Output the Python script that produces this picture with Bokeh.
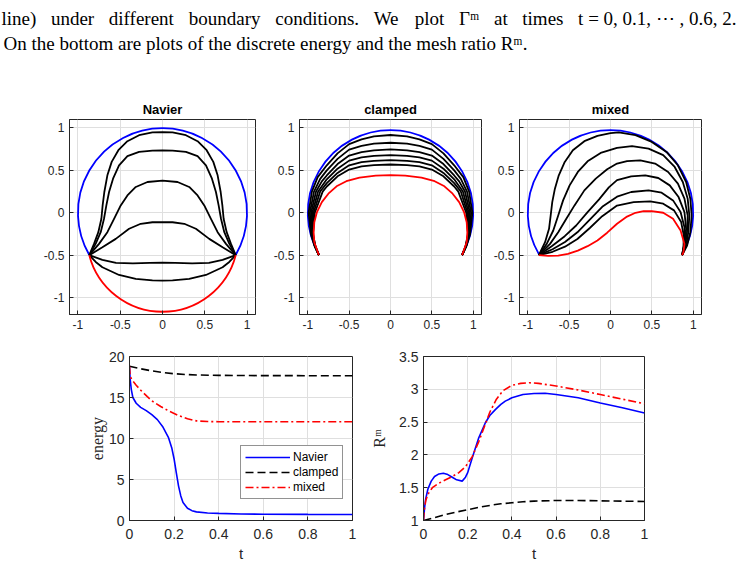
from bokeh.plotting import figure
from bokeh.layouts import column, row
from bokeh.models import Range1d, FixedTicker, Legend, LegendItem
from bokeh.embed import file_html
from bokeh.resources import INLINE
from bokeh.core.properties import value

# ---------------- caption (justified first line, word by word) ----------------
caption_words_1 = ["line)", "under", "different", "boundary", "conditions.", "We", "plot",
                   "\u0393\u1d50", "at", "times", "t = 0, 0.1, \u22ef , 0.6, 2."]
caption_word_x_1 = [1, 50.4, 108.3, 188.3, 274.7, 373.2, 414.2, 458.4, 493.5, 521.8, 577.6]
caption_line_2 = "On the bottom are plots of the discrete energy and the mesh ratio R\u1d50."

# ---------------- top row: curve snapshots ----------------
panel_titles = ["Navier", "clamped", "mixed"]
shape_ticks = [-1, -0.5, 0, 0.5, 1]
shape_tick_labels = ["-1", "-0.5", "0", "0.5", "1"]

# initial curve: unit circle arc between the two fixed end points
init_center = (0.0, 0.0)
init_radius = 1.0
init_angles = (-30.0, 210.0)

# Navier: final curve is a circular arc below the end points
navier_final_center = (0.0, -0.275)
navier_final_radius = 0.895
navier_final_angles = (194.6, 345.4)

navier_xs = [
    [-0.866, -0.81, -0.759, -0.723, -0.708, -0.688, -0.652, -0.601, -0.522, -0.415, -0.277, -0.119, 0,
     0.119, 0.277, 0.415, 0.522, 0.601, 0.652, 0.688, 0.708, 0.723, 0.759, 0.81, 0.866],
    [-0.866, -0.791, -0.731, -0.692, -0.664, -0.632, -0.585, -0.514, -0.415, -0.277, -0.119, 0,
     0.119, 0.277, 0.415, 0.514, 0.585, 0.632, 0.664, 0.692, 0.731, 0.791, 0.866],
    [-0.866, -0.751, -0.652, -0.573, -0.494, -0.415, -0.316, -0.178, 0,
     0.178, 0.316, 0.415, 0.494, 0.573, 0.652, 0.751, 0.866],
    [-0.866, -0.711, -0.553, -0.395, -0.257, -0.119, 0, 0.119, 0.257, 0.395, 0.553, 0.711, 0.866],
    [-0.866, -0.711, -0.55, -0.35, -0.15, 0, 0.15, 0.35, 0.55, 0.711, 0.866],
    [-0.866, -0.79, -0.711, -0.514, -0.316, -0.119, 0, 0.119, 0.316, 0.514, 0.711, 0.79, 0.866],
]
navier_ys = [
    [-0.5, -0.367, -0.229, -0.071, 0.087, 0.245, 0.442, 0.600, 0.738, 0.844, 0.915, 0.947, 0.952,
     0.947, 0.915, 0.844, 0.738, 0.600, 0.442, 0.245, 0.087, -0.071, -0.229, -0.367, -0.5],
    [-0.5, -0.367, -0.229, -0.071, 0.087, 0.245, 0.402, 0.560, 0.667, 0.718, 0.734, 0.735,
     0.734, 0.718, 0.667, 0.560, 0.402, 0.245, 0.087, -0.071, -0.229, -0.367, -0.5],
    [-0.5, -0.367, -0.229, -0.071, 0.087, 0.205, 0.304, 0.363, 0.38,
     0.363, 0.304, 0.205, 0.087, -0.071, -0.229, -0.367, -0.5],
    [-0.5, -0.406, -0.308, -0.189, -0.130, -0.112, -0.11, -0.112, -0.130, -0.189, -0.308, -0.406, -0.5],
    [-0.5, -0.555, -0.592, -0.598, -0.59, -0.588, -0.59, -0.598, -0.592, -0.555, -0.5],
    [-0.5, -0.58, -0.643, -0.734, -0.781, -0.797, -0.80, -0.797, -0.781, -0.734, -0.643, -0.58, -0.5],
]

clamped_xs = [
    [-0.866, -0.915, -0.962, -0.99, -0.95, -0.88, -0.77, -0.64, -0.5, -0.35, -0.2, 0,
     0.2, 0.35, 0.5, 0.64, 0.77, 0.88, 0.95, 0.99, 0.962, 0.915, 0.866],
    [-0.866, -0.913, -0.957, -0.975, -0.925, -0.85, -0.77, -0.64, -0.5, -0.35, -0.2, 0,
     0.2, 0.35, 0.5, 0.64, 0.77, 0.85, 0.925, 0.975, 0.957, 0.913, 0.866],
    [-0.866, -0.911, -0.952, -0.96, -0.90, -0.83, -0.77, -0.64, -0.5, -0.35, -0.2, 0,
     0.2, 0.35, 0.5, 0.64, 0.77, 0.83, 0.90, 0.96, 0.952, 0.911, 0.866],
    [-0.866, -0.909, -0.947, -0.945, -0.875, -0.77, -0.64, -0.5, -0.35, -0.2, 0,
     0.2, 0.35, 0.5, 0.64, 0.77, 0.875, 0.945, 0.947, 0.909, 0.866],
    [-0.866, -0.907, -0.942, -0.93, -0.85, -0.77, -0.64, -0.5, -0.35, -0.2, 0,
     0.2, 0.35, 0.5, 0.64, 0.77, 0.85, 0.93, 0.942, 0.907, 0.866],
    [-0.866, -0.906, -0.937, -0.915, -0.82, -0.77, -0.64, -0.5, -0.35, -0.2, 0,
     0.2, 0.35, 0.5, 0.64, 0.77, 0.82, 0.915, 0.937, 0.906, 0.866],
]
clamped_ys = [
    [-0.5, -0.4, -0.25, 0, 0.25, 0.42, 0.56, 0.70, 0.81, 0.865, 0.90, 0.917,
     0.90, 0.865, 0.81, 0.70, 0.56, 0.42, 0.25, 0, -0.25, -0.4, -0.5],
    [-0.5, -0.4, -0.25, 0, 0.25, 0.40, 0.50, 0.635, 0.745, 0.79, 0.815, 0.826,
     0.815, 0.79, 0.745, 0.635, 0.50, 0.40, 0.25, 0, -0.25, -0.4, -0.5],
    [-0.5, -0.4, -0.25, 0, 0.25, 0.37, 0.44, 0.575, 0.675, 0.715, 0.737, 0.747,
     0.737, 0.715, 0.675, 0.575, 0.44, 0.37, 0.25, 0, -0.25, -0.4, -0.5],
    [-0.5, -0.4, -0.25, 0, 0.25, 0.395, 0.52, 0.615, 0.652, 0.672, 0.68,
     0.672, 0.652, 0.615, 0.52, 0.395, 0.25, 0, -0.25, -0.4, -0.5],
    [-0.5, -0.4, -0.25, 0, 0.25, 0.35, 0.47, 0.56, 0.597, 0.613, 0.621,
     0.613, 0.597, 0.56, 0.47, 0.35, 0.25, 0, -0.25, -0.4, -0.5],
    [-0.5, -0.4, -0.25, 0, 0.25, 0.31, 0.43, 0.51, 0.547, 0.562, 0.569,
     0.562, 0.547, 0.51, 0.43, 0.31, 0.25, 0, -0.25, -0.4, -0.5],
]
clamped_final_x = [-0.866, -0.921, -0.929, -0.921, -0.889, -0.830, -0.751, -0.652, -0.534, -0.375, -0.178, 0,
                   0.178, 0.375, 0.534, 0.652, 0.751, 0.830, 0.889, 0.921, 0.929, 0.921, 0.866]
clamped_final_y = [-0.5, -0.348, -0.229, -0.111, 0.008, 0.126, 0.225, 0.312, 0.372, 0.415, 0.439, 0.443,
                   0.439, 0.415, 0.372, 0.312, 0.225, 0.126, 0.008, -0.111, -0.229, -0.348, -0.5]

mixed_xs = [
    [-0.866, -0.791, -0.743, -0.723, -0.704, -0.672, -0.625, -0.553, -0.455, -0.316, -0.158, 0.0, 0.1,
     0.302, 0.499, 0.677, 0.815, 0.914, 0.965, 0.981, 0.965, 0.926, 0.866],
    [-0.866, -0.771, -0.692, -0.632, -0.573, -0.494, -0.395, -0.277, -0.119, 0.079, 0.26,
     0.460, 0.637, 0.776, 0.874, 0.933, 0.953, 0.941, 0.914, 0.866],
    [-0.866, -0.731, -0.632, -0.534, -0.435, -0.316, -0.178, -0.040, 0.079, 0.2, 0.36,
     0.539, 0.697, 0.815, 0.894, 0.933, 0.925, 0.902, 0.866],
    [-0.866, -0.711, -0.553, -0.415, -0.277, -0.138, -0.020, 0.079, 0.25, 0.42,
     0.578, 0.716, 0.823, 0.894, 0.914, 0.894, 0.866],
    [-0.866, -0.7, -0.55, -0.4, -0.25, -0.1, 0.079, 0.25, 0.46,
     0.618, 0.756, 0.847, 0.894, 0.894, 0.866],
    [-0.866, -0.7, -0.55, -0.4, -0.25, -0.1, 0.079, 0.28, 0.48,
     0.637, 0.768, 0.854, 0.886, 0.882, 0.866],
]
mixed_ys = [
    [-0.5, -0.347, -0.189, -0.032, 0.126, 0.284, 0.442, 0.600, 0.738, 0.844, 0.907, 0.94, 0.947,
     0.915, 0.836, 0.718, 0.560, 0.363, 0.166, -0.032, -0.229, -0.387, -0.5],
    [-0.5, -0.367, -0.209, -0.032, 0.146, 0.323, 0.481, 0.607, 0.706, 0.765, 0.785,
     0.757, 0.679, 0.540, 0.363, 0.166, -0.032, -0.229, -0.387, -0.5],
    [-0.5, -0.367, -0.229, -0.071, 0.087, 0.264, 0.402, 0.513, 0.580, 0.61, 0.619,
     0.580, 0.481, 0.343, 0.166, -0.032, -0.229, -0.387, -0.5],
    [-0.5, -0.394, -0.276, -0.150, 0.008, 0.158, 0.30, 0.385, 0.43, 0.442,
     0.410, 0.323, 0.185, 0.008, -0.189, -0.367, -0.5],
    [-0.5, -0.43, -0.345, -0.23, -0.08, 0.07, 0.19, 0.245, 0.264,
     0.237, 0.146, 0.008, -0.170, -0.347, -0.5],
    [-0.5, -0.46, -0.40, -0.31, -0.18, -0.04, 0.085, 0.125, 0.134,
     0.107, 0.028, -0.110, -0.268, -0.406, -0.5],
]
mixed_final_x = [-0.866, -0.751, -0.632, -0.514, -0.395, -0.277, -0.158, -0.04, 0.079, 0.2, 0.302, 0.40,
                 0.499, 0.637, 0.756, 0.847, 0.894, 0.882, 0.866]
mixed_final_y = [-0.5, -0.509, -0.505, -0.485, -0.446, -0.394, -0.327, -0.235, -0.13, -0.045, 0.0, 0.018,
                 0.02, 0.0, -0.071, -0.209, -0.367, -0.465, -0.5]

# ---------------- bottom row: energy and mesh ratio ----------------
time_ticks = [0, 0.2, 0.4, 0.6, 0.8, 1]
time_tick_labels = ["0", "0.2", "0.4", "0.6", "0.8", "1"]
energy_ticks = [0, 5, 10, 15, 20]
energy_tick_labels = ["0", "5", "10", "15", "20"]
ratio_ticks = [1, 1.5, 2, 2.5, 3, 3.5]
ratio_tick_labels = ["1", "1.5", "2", "2.5", "3", "3.5"]

energy_navier_t = [0, 0.003, 0.008, 0.015, 0.03, 0.05, 0.075, 0.1, 0.125, 0.15, 0.175, 0.19, 0.2,
                   0.21, 0.22, 0.23, 0.24, 0.26, 0.28, 0.3, 0.35, 0.4, 0.5, 0.6, 0.8, 1.0]
energy_navier = [18.8, 17.2, 16.0, 15.0, 14.3, 13.8, 13.4, 12.9, 12.3, 11.4, 10.1, 8.8, 7.5,
                 5.8, 4.2, 3.0, 2.2, 1.5, 1.2, 1.05, 0.92, 0.87, 0.8, 0.77, 0.75, 0.74]
energy_clamped_t = [0, 0.05, 0.1, 0.15, 0.2, 0.25, 0.3, 0.4, 0.5, 0.6, 0.8, 1.0]
energy_clamped = [18.8, 18.5, 18.25, 18.05, 17.9, 17.8, 17.75, 17.7, 17.68, 17.67, 17.66, 17.65]
energy_mixed_t = [0, 0.003, 0.01, 0.03, 0.05, 0.08, 0.1, 0.14, 0.18, 0.22, 0.26, 0.3, 0.35, 0.4,
                  0.5, 0.6, 0.8, 1.0]
energy_mixed = [18.8, 17.6, 17.2, 16.5, 15.9, 15.1, 14.6, 13.9, 13.3, 12.8, 12.4, 12.15, 12.07, 12.05,
                12.05, 12.05, 12.05, 12.05]

ratio_navier_t = [0, 0.005, 0.01, 0.02, 0.035, 0.05, 0.07, 0.09, 0.11, 0.13, 0.15, 0.175, 0.19, 0.2,
                  0.22, 0.25, 0.28, 0.3, 0.325, 0.35, 0.37, 0.4, 0.45, 0.5, 0.55, 0.6, 0.7, 0.8, 0.9, 1.0]
ratio_navier = [1.0, 1.2, 1.33, 1.48, 1.6, 1.67, 1.71, 1.72, 1.70, 1.66, 1.62, 1.60, 1.66, 1.73,
                1.95, 2.26, 2.49, 2.6, 2.69, 2.77, 2.82, 2.87, 2.92, 2.935, 2.94, 2.92, 2.87, 2.79, 2.72, 2.64]
ratio_clamped_t = [0, 0.05, 0.1, 0.15, 0.2, 0.25, 0.3, 0.35, 0.4, 0.45, 0.5, 0.6, 0.7, 0.8, 0.9, 1.0]
ratio_clamped = [1.0, 1.045, 1.09, 1.13, 1.165, 1.2, 1.23, 1.255, 1.27, 1.285, 1.295, 1.305, 1.305,
                 1.30, 1.295, 1.29]
ratio_mixed_t = [0, 0.003, 0.01, 0.02, 0.04, 0.07, 0.1, 0.13, 0.16, 0.19, 0.22, 0.25, 0.28, 0.3, 0.33,
                 0.36, 0.4, 0.44, 0.48, 0.52, 0.56, 0.6, 0.7, 0.8, 0.9, 1.0]
ratio_mixed = [1.0, 1.15, 1.3, 1.4, 1.5, 1.57, 1.62, 1.67, 1.73, 1.82, 1.97, 2.2, 2.47, 2.65, 2.85,
               2.98, 3.06, 3.09, 3.10, 3.09, 3.07, 3.05, 2.99, 2.92, 2.85, 2.78]

series_names = ["Navier", "clamped", "mixed"]

# ---------------- styling helpers ----------------
AX = "#262626"
GRID = "#dfdfdf"
SANS = "Liberation Sans"
SERIF = "Liberation Serif"


def make_panel(w, h, borders, xr, yr, title=None):
    left, right, top, bottom = borders
    p = figure(width=w, height=h, x_range=Range1d(*xr), y_range=Range1d(*yr),
               output_backend="svg", toolbar_location=None, title=title,
               min_border_left=left, min_border_right=right,
               min_border_top=top, min_border_bottom=bottom)
    p.outline_line_color = AX
    p.outline_line_width = 1
    p.grid.grid_line_color = GRID
    p.background_fill_color = "white"
    if title:
        p.title.text_font = SANS
        p.title.text_font_style = "bold"
        p.title.text_font_size = "13px"
        p.title.text_color = "black"
        p.title.align = "center"
        p.title.standoff = 5
    return p


def style_axes(p, xt, xl, yt, yl, fs, xstand=5, ystand=5):
    xa, ya = p.below[0], p.left[0]
    xa.ticker = FixedTicker(ticks=xt)
    ya.ticker = FixedTicker(ticks=yt)
    xa.major_label_overrides = dict(zip(xt, xl))
    ya.major_label_overrides = dict(zip(yt, yl))
    for ax in (xa, ya):
        ax.axis_line_color = AX
        ax.major_tick_line_color = AX
        ax.major_tick_in = 4
        ax.major_tick_out = 0
        ax.minor_tick_line_color = None
        ax.major_label_text_font = SANS
        ax.major_label_text_font_size = fs
        ax.major_label_text_color = AX
    xa.major_label_standoff = xstand
    ya.major_label_standoff = ystand
    return xa, ya


LW = 1.8
shape_xr = (-1.1, 1.1)
shape_yr = (-1.2, 1.1)
TOP_H = 250


def draw_arc(p, center, radius, angles, color):
    p.arc(x=[center[0]], y=[center[1]], radius=radius,
          start_angle=angles[0], end_angle=angles[1],
          start_angle_units="deg", end_angle_units="deg",
          direction="anticlock", line_color=color, line_width=LW)


# Navier
f1 = make_panel(270, TOP_H, (69, 15, 31, 24), shape_xr, shape_yr, panel_titles[0])
style_axes(f1, shape_ticks, shape_tick_labels, shape_ticks, shape_tick_labels, "12px")
draw_arc(f1, init_center, init_radius, init_angles, "#0000ff")
f1.multi_line(xs=navier_xs, ys=navier_ys, line_color="black", line_width=LW)
draw_arc(f1, navier_final_center, navier_final_radius, navier_final_angles, "#ff0000")

# clamped
f2 = make_panel(220, TOP_H, (25, 9, 31, 24), shape_xr, shape_yr, panel_titles[1])
style_axes(f2, shape_ticks, shape_tick_labels, shape_ticks, shape_tick_labels, "12px")
draw_arc(f2, init_center, init_radius, init_angles, "#0000ff")
f2.multi_line(xs=clamped_xs, ys=clamped_ys, line_color="black", line_width=LW)
f2.line(clamped_final_x, clamped_final_y, line_color="#ff0000", line_width=LW)

# mixed
f3 = make_panel(259, TOP_H, (24, 48, 31, 24), shape_xr, shape_yr, panel_titles[2])
style_axes(f3, shape_ticks, shape_tick_labels, shape_ticks, shape_tick_labels, "12px")
draw_arc(f3, init_center, init_radius, init_angles, "#0000ff")
f3.multi_line(xs=mixed_xs, ys=mixed_ys, line_color="black", line_width=LW)
f3.line(mixed_final_x, mixed_final_y, line_color="#ff0000", line_width=LW)

BOT_H = 227

# discrete energy
f4 = make_panel(368, BOT_H, (129, 16, 18, 45), (0, 1), (0, 20))
xa4, ya4 = style_axes(f4, time_ticks, time_tick_labels, energy_ticks, energy_tick_labels, "14px", xstand=8, ystand=5)
r_nav = f4.line(energy_navier_t, energy_navier, line_color="#0000ff", line_width=1.6)
r_cla = f4.line(energy_clamped_t, energy_clamped, line_color="black", line_width=1.6, line_dash="8 4")
r_mix = f4.line(energy_mixed_t, energy_mixed, line_color="#ff0000", line_width=1.6, line_dash="8 3 2 3")
xa4.axis_label = "t"
ya4.axis_label = "energy"
legend = Legend(items=[LegendItem(label=series_names[0], renderers=[r_nav]),
                       LegendItem(label=series_names[1], renderers=[r_cla]),
                       LegendItem(label=series_names[2], renderers=[r_mix])],
                location=(111, 21))
legend.border_line_color = AX
legend.border_line_width = 1
legend.background_fill_color = "white"
legend.background_fill_alpha = 1
legend.label_text_font = SANS
legend.label_text_font_size = "12px"
legend.label_text_color = "black"
legend.glyph_width = 45
legend.glyph_height = 14
legend.label_height = 14
legend.label_standoff = 3
legend.spacing = 1
legend.padding = 4
legend.margin = 0
f4.add_layout(legend, "center")

# mesh ratio
f5 = make_panel(381, BOT_H, (53, 105, 18, 45), (0, 1), (1, 3.5))
xa5, ya5 = style_axes(f5, time_ticks, time_tick_labels, ratio_ticks, ratio_tick_labels, "14px", xstand=8, ystand=5)
f5.line(ratio_navier_t, ratio_navier, line_color="#0000ff", line_width=1.6)
f5.line(ratio_clamped_t, ratio_clamped, line_color="black", line_width=1.6, line_dash="8 4")
f5.line(ratio_mixed_t, ratio_mixed, line_color="#ff0000", line_width=1.6, line_dash="8 3 2 3")
xa5.axis_label = "t"
ya5.axis_label = "R\u1d50"

for xa, ya, stand in ((xa4, ya4, 0), (xa5, ya5, 8)):
    xa.axis_label_text_font = SANS
    xa.axis_label_text_font_size = "15px"
    xa.axis_label_text_font_style = "normal"
    xa.axis_label_text_color = AX
    xa.axis_label_standoff = 3
    ya.axis_label_text_font = SERIF
    ya.axis_label_text_font_size = "16px"
    ya.axis_label_text_font_style = "normal"
    ya.axis_label_text_color = AX
    ya.axis_label_standoff = stand

# caption block
cap = figure(width=749, height=88, x_range=Range1d(0, 749), y_range=Range1d(88, 0),
             output_backend="svg", toolbar_location=None, x_axis_location=None, y_axis_location=None,
             min_border=0)
cap.outline_line_color = None
cap.grid.visible = False
cap.text(x=caption_word_x_1, y=[18] * len(caption_words_1), text=caption_words_1,
         text_font=value(SERIF), text_font_size="19px", text_color="black", text_baseline="alphabetic")
cap.text(x=[3], y=[42.5], text=[caption_line_2], text_font=value(SERIF),
         text_font_size="19px", text_color="black", text_baseline="alphabetic")

layout = column(cap, row(f1, f2, f3), row(f4, f5))

with open("out.html", "w") as fh:
    fh.write(file_html(layout, INLINE))
